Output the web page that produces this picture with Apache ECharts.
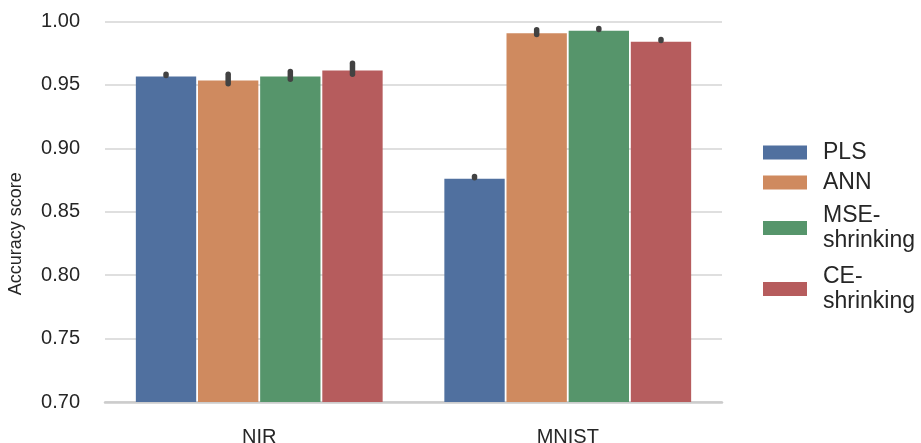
<!DOCTYPE html>
<html>
<head>
<meta charset="utf-8">
<script src="https://cdn.jsdelivr.net/npm/echarts@6/dist/echarts.min.js"></script>
<style>
  html, body { margin: 0; padding: 0; background: #ffffff; }
  #chart { width: 921px; height: 443px; }
</style>
</head>
<body>
<div id="chart"></div>
<script>
// Datasets on the x axis
const categories = ['NIR', 'MNIST'];
// Models compared (one bar series each)
const models = ['PLS', 'ANN', 'MSE-shrinking', 'CE-shrinking'];
const colors = ['#50709f', '#cf8a5f', '#56956b', '#b65c5d'];

// Mean accuracy per model, ordered as categories
const plsScores = [0.9567, 0.8761];
const annScores = [0.9535, 0.9907];
const mseScores = [0.9567, 0.9928];
const ceScores  = [0.9614, 0.9841];

// Confidence interval [low, high] per model, ordered as categories
const plsCI = [[0.9575, 0.9585], [0.8768, 0.8778]];
const annCI = [[0.9510, 0.9585], [0.9898, 0.9935]];
const mseCI = [[0.9545, 0.9605], [0.9937, 0.9945]];
const ceCI  = [[0.9585, 0.9670], [0.9851, 0.9859]];

// Y axis ticks
const yMin = 0.70, yMax = 1.00, yStep = 0.05;

const scores = [plsScores, annScores, mseScores, ceScores];
const intervals = [plsCI, annCI, mseCI, ceCI];

const textColor = '#262626';
const gridColor = '#d4d4d4';
const fontFamily = '"Liberation Sans", Arial, sans-serif';

const categoryGapFrac = 0.2;   // barCategoryGap
const barGapFrac = 0.03;       // barGap relative to bar width

const barSeries = models.map((name, s) => ({
  name: name,
  type: 'bar',
  data: scores[s],
  itemStyle: { color: colors[s] },
  barGap: (barGapFrac * 100) + '%',
  barCategoryGap: (categoryGapFrac * 100) + '%',
  z: 2
}));

// Error bar records: [categoryIndex, modelIndex, low, high]
const errData = [];
intervals.forEach((ci, s) => {
  ci.forEach((pair, c) => errData.push([c, s, pair[0], pair[1]]));
});

const errorSeries = {
  name: 'ci',
  type: 'custom',
  data: errData,
  z: 10,
  silent: true,
  encode: { x: 0, y: [2, 3] },
  renderItem: function (params, api) {
    const c = api.value(0), s = api.value(1);
    const lo = api.coord([c, api.value(2)]);
    const hi = api.coord([c, api.value(3)]);
    const band = api.size([1, 0])[0];
    const groupW = band * (1 - categoryGapFrac);
    const n = models.length;
    const barW = groupW / (n + (n - 1) * barGapFrac);
    const x = lo[0] - groupW / 2 + s * barW * (1 + barGapFrac) + barW / 2;
    return {
      type: 'line',
      shape: { x1: x, y1: lo[1], x2: x, y2: hi[1] },
      style: { stroke: '#424242', lineWidth: 5.5, lineCap: 'round' }
    };
  }
};

// Two-line legend entries get a little extra vertical room
const legendData = models.map(name => name.indexOf('-') >= 0
  ? { name: name, textStyle: { padding: [3, 0, 3, 11] } }
  : { name: name });

const chart = echarts.init(document.getElementById('chart'), null, { renderer: 'canvas' });
chart.setOption({
  backgroundColor: '#ffffff',
  animation: false,
  textStyle: { fontFamily: fontFamily, color: textColor },
  grid: { left: 105, right: 199, top: 21.5, bottom: 41, containLabel: false, outerBoundsMode: 'none' },
  legend: {
    data: legendData,
    orient: 'vertical',
    left: 758,
    top: 135,
    itemWidth: 44,
    itemHeight: 14,
    itemGap: 5,
    icon: 'rect',
    formatter: name => name.replace('-', '-\n'),
    textStyle: { fontSize: 23, lineHeight: 25, color: textColor, fontFamily: fontFamily, padding: [0, 0, 0, 11] }
  },
  xAxis: {
    type: 'category',
    data: categories,
    axisLine: { show: true, lineStyle: { color: '#cccccc', width: 2.5 } },
    axisTick: { show: false },
    axisLabel: { fontSize: 20, color: textColor, margin: 25, fontFamily: fontFamily }
  },
  yAxis: {
    type: 'value',
    min: yMin,
    max: yMax,
    interval: yStep,
    name: 'Accuracy score',
    nameLocation: 'middle',
    nameGap: 80,
    nameTextStyle: { fontSize: 18, color: textColor, fontFamily: fontFamily, padding: [0, 44, 0, 0] },
    axisLine: { show: false },
    axisTick: { show: false },
    axisLabel: {
      fontSize: 20, color: textColor, margin: 25, fontFamily: fontFamily,
      formatter: v => v.toFixed(2)
    },
    splitLine: { show: true, lineStyle: { color: gridColor, width: 1.5 } }
  },
  series: [...barSeries, errorSeries]
});
</script>
</body>
</html>
